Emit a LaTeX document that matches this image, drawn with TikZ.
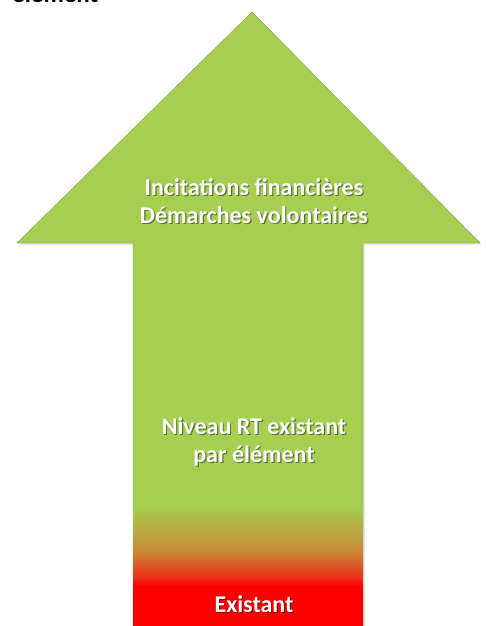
\documentclass[tikz,border=0pt]{standalone}
\usepackage{fontspec}
\setmainfont{Carlito}
\usetikzlibrary{shadows}
\definecolor{argreen}{RGB}{166,206,80}
\definecolor{armid}{RGB}{200,140,55}
\definecolor{arred}{RGB}{238,45,25}
\definecolor{redfull}{RGB}{255,0,0}
\tikzset{
  lbl/.style={font=\bfseries\fontsize{24}{27.5}\selectfont, text=white, align=center},
  lblshadow/.style={font=\bfseries\fontsize{24}{27.5}\selectfont, text=black, opacity=0.45, align=center},
}
\begin{document}
\begin{tikzpicture}[x=1pt,y=-1pt]
\useasboundingbox (0,0) rectangle (486,626);
\clip (0,0) rectangle (486,626);
% cut-off title
\node[anchor=base west, font=\bfseries\fontsize{25}{28}\selectfont, inner sep=0pt] (title) at (12,3) {élément};
% arrow
\path[fill=argreen, draw=argreen!80!black, line width=0.4pt, drop shadow={opacity=0.25, shadow xshift=1.5pt, shadow yshift=-1.5pt}]
  (252,12) -- (480,243) -- (363,243) -- (363,630) -- (133,630) -- (133,243) -- (17,243) -- cycle;
% gradient at bottom of the shaft
\shade[top color=argreen, bottom color=armid] (133.3,505) rectangle (362.7,550);
\shade[top color=armid, bottom color=arred] (133.3,550) rectangle (362.7,578);
\shade[top color=arred, bottom color=redfull] (133.3,578) rectangle (362.7,586);
\fill[redfull] (133.3,586) rectangle (362.7,630);
% labels with shadows
\node[lblshadow] at (255.2,202.2) {Incitations financières\\Démarches volontaires};
\node[lbl] (top) at (254,201) {Incitations financières\\Démarches volontaires};
\node[lblshadow] at (255.2,443.2) {Niveau RT existant\\par élément};
\node[lbl] (mid) at (254,442) {Niveau RT existant\\par élément};
\node[lblshadow] at (255.2,605.2) {Existant};
\node[lbl] (bot) at (254,604) {Existant};
\end{tikzpicture}
\end{document}
